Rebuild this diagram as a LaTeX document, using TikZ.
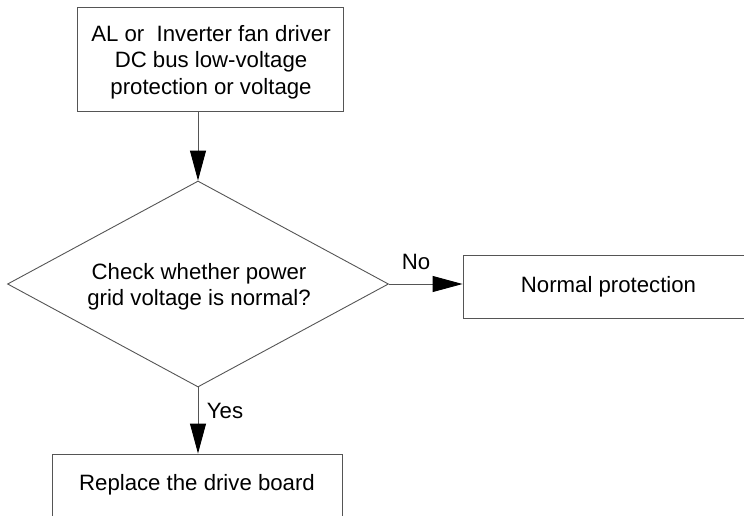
\documentclass[tikz,border=0pt]{standalone}
\usepackage{fontspec}
\setmainfont{Liberation Sans}
\usetikzlibrary{shapes.geometric,arrows.meta}
\definecolor{linegray}{RGB}{85,85,85}
\begin{document}
\begin{tikzpicture}[x=1pt,y=-1pt,
  txt/.style={font=\fontsize{22.2}{26.3}\selectfont, text=black, align=center, inner sep=0pt},
  box/.style={txt, draw=linegray, line width=0.9pt},
  dia/.style={draw=linegray, line width=0.9pt, diamond, inner sep=0pt},
  flow/.style={draw=linegray, line width=0.9pt, -{Triangle[length=30pt,width=16pt,color=black]}}]
\useasboundingbox (0,0) rectangle (744,515);
\node[box, minimum width=266pt, minimum height=104pt] (start) at (210,59) {};
\node[txt] (starttext) at (211,62)
  {AL or\ \ Inverter fan driver\\DC bus low-voltage\\protection or voltage};
\node[dia, minimum width=381pt, minimum height=206pt] (check) at (198,284) {};
\node[txt] (checktext) at (199,287) {Check whether power\\grid voltage is normal?};
\node[box, minimum width=291pt, minimum height=63pt] (normal) at (608.5,286.5)
  {Normal protection};
\node[box, minimum width=290pt, minimum height=62pt] (replace) at (197,485)
  {Replace the drive board};
\draw[flow] (check.north |- start.south) -- (check.north);
\draw[flow] (check.east) -- (check.east -| normal.west);
\draw[flow] (check.south) -- (check.south |- replace.north);
\node[txt] (no) at (416,262) {No};
\node[txt] (yes) at (225,411) {Yes};
\end{tikzpicture}
\end{document}
